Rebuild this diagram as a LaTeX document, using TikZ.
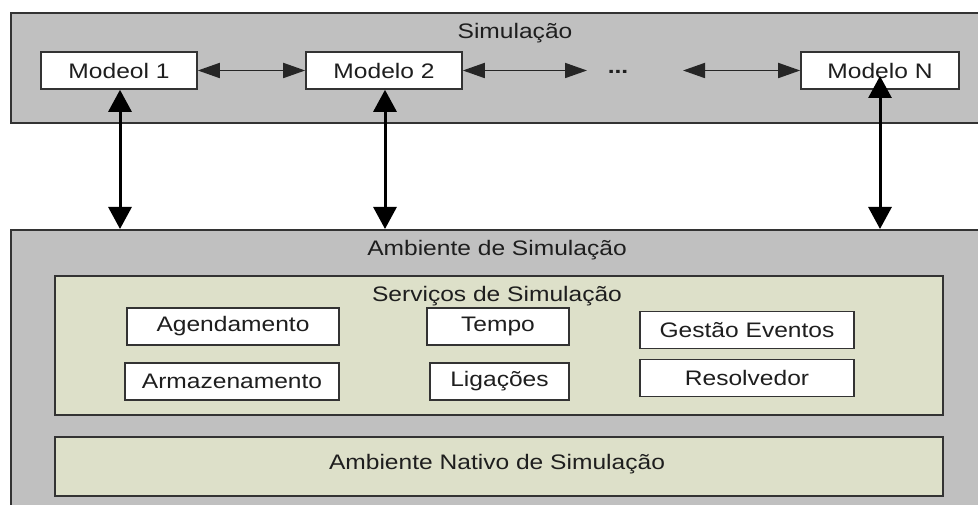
\documentclass[tikz,border=0pt]{standalone}
\usepackage{fontspec}
\setmainfont[FakeStretch=1.17]{Liberation Sans}
\usetikzlibrary{arrows.meta}
\definecolor{outergray}{HTML}{C0C0C0}
\definecolor{innergreen}{HTML}{DDE0C9}
\definecolor{linecol}{HTML}{333333}
\definecolor{txtcol}{HTML}{1E1E1E}
\begin{document}
\begin{tikzpicture}[x=1pt,y=-1pt,
  every node/.style={font=\fontsize{21}{22}\selectfont, text=txtcol},
  outerbox/.style={draw=linecol, line width=2pt, fill=outergray, rectangle, inner sep=0pt},
  innerbox/.style={draw=linecol, line width=1.8pt, fill=innergreen, rectangle, inner sep=0pt},
  modbox/.style={draw=linecol, line width=1.6pt, fill=white, rectangle, inner sep=0pt, minimum width=156pt, minimum height=37pt},
  svcbox/.style={draw=linecol, line width=1.6pt, fill=white, rectangle, inner sep=0pt, minimum height=37pt},
  lbl/.style={inner sep=0pt},
  harrow/.style={draw=black!85, line width=1.8pt, {Triangle[length=22pt,width=15pt]}-{Triangle[length=22pt,width=15pt]}},
  varrow/.style={draw=black, line width=3pt, {Triangle[length=22pt,width=23pt]}-{Triangle[length=22pt,width=23pt]}}
]
\useasboundingbox (0,0) rectangle (978,505);
\fill[white] (0,0) rectangle (978,505);
% top container
\node[outerbox, minimum width=990pt, minimum height=110pt, anchor=north west] (sim) at (10,12) {};
\node[lbl] (simlbl) at (515,33) {Simulação};
\node[modbox] (m1) at (119,70.5) {Modeol 1};
\node[modbox] (m2) at (384,70.5) {Modelo 2};
\node[modbox, minimum width=158pt] (mN) at (880,70.5) {Modelo N};
\node[lbl, font=\fontsize{21}{22}\selectfont\bfseries] (dots) at (618,72) {...};
\coordinate (d1) at (587,70.5);
\coordinate (d2) at (683,70.5);
% bottom container
\node[outerbox, minimum width=990pt, minimum height=300pt, anchor=north west] (amb) at (10,229) {};
\node[lbl] (amblbl) at (497,250) {Ambiente de Simulação};
\node[innerbox, minimum width=888pt, minimum height=139pt, anchor=north west] (svc) at (54,275) {};
\node[lbl] (svclbl) at (497,296) {Serviços de Simulação};
\node[svcbox, minimum width=212pt] (ag) at (233,326.5) {Agendamento};
\node[svcbox, minimum width=214pt] (ar) at (232,381.5) {Armazenamento};
\node[svcbox, minimum width=142pt] (te) at (498,326.5) {Tempo};
\node[svcbox, minimum width=139pt] (li) at (499.5,381.5) {Ligações};
\node[svcbox, minimum width=214pt] (ge) at (747,330) {Gestão Eventos};
\node[svcbox, minimum width=214pt] (re) at (747,378) {Resolvedor};
\node[innerbox, minimum width=888pt, minimum height=59pt, anchor=north west] (nat) at (54,436) {};
\node[lbl] (natlbl) at (497,464) {Ambiente Nativo de Simulação};
% horizontal arrows
\draw[harrow] (m1.east) -- (m2.west);
\draw[harrow] (m2.east) -- (d1);
\draw[harrow] (d2) -- (mN.west);
% vertical arrows
\coordinate (b1) at (120,229);
\coordinate (b2) at (385,229);
\coordinate (bN) at (880,229);
\coordinate (tN) at (880,76);
\draw[varrow] (m1.south -| b1) -- (b1);
\draw[varrow] (m2.south -| b2) -- (b2);
\draw[varrow] (tN) -- (bN);
\end{tikzpicture}
\end{document}
